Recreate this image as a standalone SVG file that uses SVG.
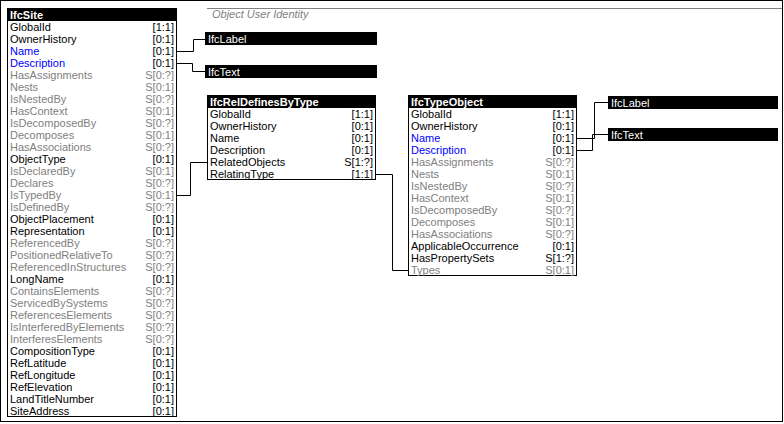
<svg xmlns="http://www.w3.org/2000/svg" width="784" height="424" viewBox="0 0 784 424">
<style>
text{font-family:"Liberation Sans",Arial,sans-serif;font-size:11px}
.box{fill:#fff;stroke:#000;stroke-width:1}
.hdr{fill:#000}
.ht{fill:#fff;font-weight:bold}
.a{fill:#000}
.g{fill:#808080}
.b{fill:#0000ff}
.c{text-anchor:end}
.con{fill:none;stroke:#000;stroke-width:1}
.ttl{fill:#808080;font-style:italic}
</style>
<rect x="0.5" y="0.5" width="782" height="421" fill="#fff" stroke="#000"/>
<line x1="207" y1="8.5" x2="782" y2="8.5" stroke="#808080"/>
<text class="ttl" x="212" y="18">Object User Identity</text>

<g id="connectors">
<path class="con" d="M177 51.5H193.5V39.5H205"/>
<path class="con" d="M177 63.5H192.5V71.5H205"/>
<path class="con" d="M177 195.5H190.5V162.5H207"/>
<path class="con" d="M376 174.5H392.5V270.5H408"/>
<path class="con" d="M577 138.5H594.5V102.5H608"/>
<path class="con" d="M577 150.5H592.5V134.5H608"/>
</g>

<g id="IfcSite">
<rect class="box" x="7.5" y="8.5" width="169" height="408"/>
<rect class="hdr" x="7" y="8" width="170" height="13"/>
<text class="ht" x="10" y="19">IfcSite</text>
<g>
<text class="a" x="10" y="31">GlobalId</text><text class="a c" x="174" y="31">[1:1]</text>
<text class="a" x="10" y="43">OwnerHistory</text><text class="a c" x="174" y="43">[0:1]</text>
<text class="b" x="10" y="55">Name</text><text class="a c" x="174" y="55">[0:1]</text>
<text class="b" x="10" y="67">Description</text><text class="a c" x="174" y="67">[0:1]</text>
<text class="g" x="10" y="79">HasAssignments</text><text class="g c" x="174" y="79">S[0:?]</text>
<text class="g" x="10" y="91">Nests</text><text class="g c" x="174" y="91">S[0:1]</text>
<text class="g" x="10" y="103">IsNestedBy</text><text class="g c" x="174" y="103">S[0:?]</text>
<text class="g" x="10" y="115">HasContext</text><text class="g c" x="174" y="115">S[0:1]</text>
<text class="g" x="10" y="127">IsDecomposedBy</text><text class="g c" x="174" y="127">S[0:?]</text>
<text class="g" x="10" y="139">Decomposes</text><text class="g c" x="174" y="139">S[0:1]</text>
<text class="g" x="10" y="151">HasAssociations</text><text class="g c" x="174" y="151">S[0:?]</text>
<text class="a" x="10" y="163">ObjectType</text><text class="a c" x="174" y="163">[0:1]</text>
<text class="g" x="10" y="175">IsDeclaredBy</text><text class="g c" x="174" y="175">S[0:1]</text>
<text class="g" x="10" y="187">Declares</text><text class="g c" x="174" y="187">S[0:?]</text>
<text class="g" x="10" y="199">IsTypedBy</text><text class="g c" x="174" y="199">S[0:1]</text>
<text class="g" x="10" y="211">IsDefinedBy</text><text class="g c" x="174" y="211">S[0:?]</text>
<text class="a" x="10" y="223">ObjectPlacement</text><text class="a c" x="174" y="223">[0:1]</text>
<text class="a" x="10" y="235">Representation</text><text class="a c" x="174" y="235">[0:1]</text>
<text class="g" x="10" y="247">ReferencedBy</text><text class="g c" x="174" y="247">S[0:?]</text>
<text class="g" x="10" y="259">PositionedRelativeTo</text><text class="g c" x="174" y="259">S[0:?]</text>
<text class="g" x="10" y="271">ReferencedInStructures</text><text class="g c" x="174" y="271">S[0:?]</text>
<text class="a" x="10" y="283">LongName</text><text class="a c" x="174" y="283">[0:1]</text>
<text class="g" x="10" y="295">ContainsElements</text><text class="g c" x="174" y="295">S[0:?]</text>
<text class="g" x="10" y="307">ServicedBySystems</text><text class="g c" x="174" y="307">S[0:?]</text>
<text class="g" x="10" y="319">ReferencesElements</text><text class="g c" x="174" y="319">S[0:?]</text>
<text class="g" x="10" y="331">IsInterferedByElements</text><text class="g c" x="174" y="331">S[0:?]</text>
<text class="g" x="10" y="343">InterferesElements</text><text class="g c" x="174" y="343">S[0:?]</text>
<text class="a" x="10" y="355">CompositionType</text><text class="a c" x="174" y="355">[0:1]</text>
<text class="a" x="10" y="367">RefLatitude</text><text class="a c" x="174" y="367">[0:1]</text>
<text class="a" x="10" y="379">RefLongitude</text><text class="a c" x="174" y="379">[0:1]</text>
<text class="a" x="10" y="391">RefElevation</text><text class="a c" x="174" y="391">[0:1]</text>
<text class="a" x="10" y="403">LandTitleNumber</text><text class="a c" x="174" y="403">[0:1]</text>
<text class="a" x="10" y="415">SiteAddress</text><text class="a c" x="174" y="415">[0:1]</text>
</g>
</g>

<g id="IfcLabel_1">
<rect class="hdr" x="205" y="32" width="172" height="13"/>
<text fill="#fff" x="208" y="43">IfcLabel</text>
</g>
<g id="IfcText_1">
<rect class="hdr" x="205" y="65" width="172" height="13"/>
<text fill="#fff" x="208" y="76">IfcText</text>
</g>

<g id="IfcRelDefinesByType">
<rect class="box" x="207.5" y="95.5" width="168" height="84"/>
<rect class="hdr" x="207" y="95" width="169" height="13"/>
<text class="ht" x="210" y="106">IfcRelDefinesByType</text>
<text class="a" x="210" y="118">GlobalId</text><text class="a c" x="373" y="118">[1:1]</text>
<text class="a" x="210" y="130">OwnerHistory</text><text class="a c" x="373" y="130">[0:1]</text>
<text class="a" x="210" y="142">Name</text><text class="a c" x="373" y="142">[0:1]</text>
<text class="a" x="210" y="154">Description</text><text class="a c" x="373" y="154">[0:1]</text>
<text class="a" x="210" y="166">RelatedObjects</text><text class="a c" x="373" y="166">S[1:?]</text>
<text class="a" x="210" y="178">RelatingType</text><text class="a c" x="373" y="178">[1:1]</text>
</g>

<g id="IfcTypeObject">
<rect class="box" x="408.5" y="95.5" width="168" height="180"/>
<rect class="hdr" x="408" y="95" width="169" height="13"/>
<text class="ht" x="411" y="106">IfcTypeObject</text>
<text class="a" x="411" y="118">GlobalId</text><text class="a c" x="574" y="118">[1:1]</text>
<text class="a" x="411" y="130">OwnerHistory</text><text class="a c" x="574" y="130">[0:1]</text>
<text class="b" x="411" y="142">Name</text><text class="a c" x="574" y="142">[0:1]</text>
<text class="b" x="411" y="154">Description</text><text class="a c" x="574" y="154">[0:1]</text>
<text class="g" x="411" y="166">HasAssignments</text><text class="g c" x="574" y="166">S[0:?]</text>
<text class="g" x="411" y="178">Nests</text><text class="g c" x="574" y="178">S[0:1]</text>
<text class="g" x="411" y="190">IsNestedBy</text><text class="g c" x="574" y="190">S[0:?]</text>
<text class="g" x="411" y="202">HasContext</text><text class="g c" x="574" y="202">S[0:1]</text>
<text class="g" x="411" y="214">IsDecomposedBy</text><text class="g c" x="574" y="214">S[0:?]</text>
<text class="g" x="411" y="226">Decomposes</text><text class="g c" x="574" y="226">S[0:1]</text>
<text class="g" x="411" y="238">HasAssociations</text><text class="g c" x="574" y="238">S[0:?]</text>
<text class="a" x="411" y="250">ApplicableOccurrence</text><text class="a c" x="574" y="250">[0:1]</text>
<text class="a" x="411" y="262">HasPropertySets</text><text class="a c" x="574" y="262">S[1:?]</text>
<text class="g" x="411" y="274">Types</text><text class="g c" x="574" y="274">S[0:1]</text>
</g>

<g id="IfcLabel_2">
<rect class="hdr" x="608" y="96" width="170" height="13"/>
<text fill="#fff" x="611" y="107">IfcLabel</text>
</g>
<g id="IfcText_2">
<rect class="hdr" x="608" y="128" width="170" height="13"/>
<text fill="#fff" x="611" y="139">IfcText</text>
</g>
</svg>
